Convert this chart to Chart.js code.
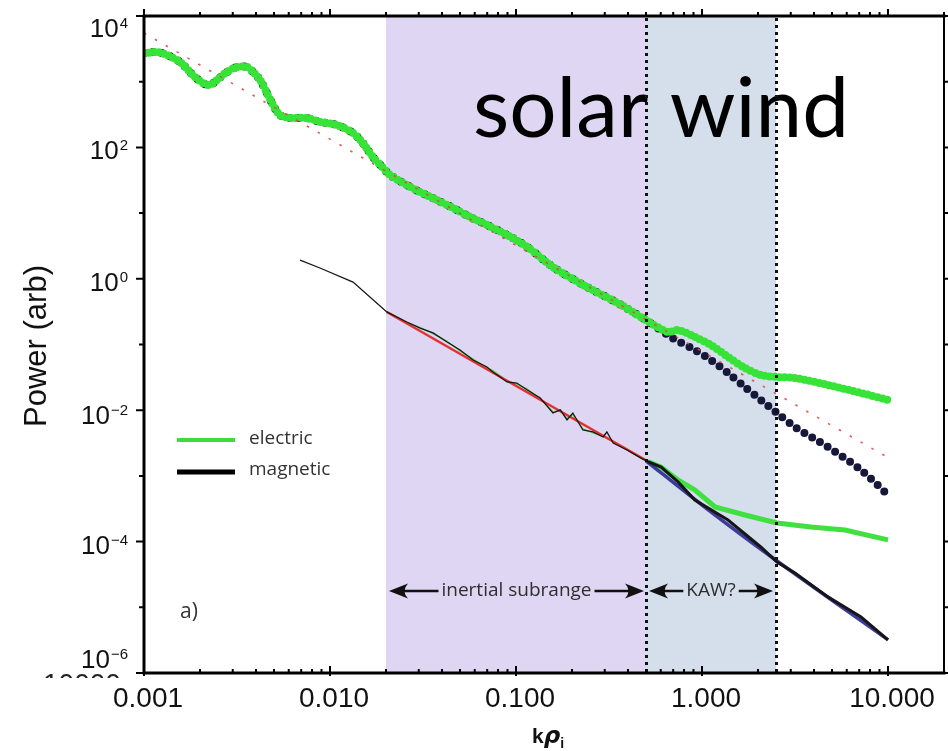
<!DOCTYPE html>
<html>
<head>
<meta charset="utf-8">
<style>
  html, body { margin: 0; padding: 0; background: #ffffff; }
  #wrap { width: 948px; height: 751px; }
  canvas { display: block; }
</style>
<script src="https://cdn.jsdelivr.net/npm/chart.js@4.4.1/dist/chart.umd.min.js"></script>
</head>
<body>
<div id="wrap"><canvas id="spectra" width="948" height="751"></canvas></div>
<script>
// ---- spectra: wavenumber k*rho_i versus power (arbitrary units) ----

// upper pair: electric and magnetic field spectra
const kElectricUpper = [0.001, 0.00117, 0.00133, 0.00156, 0.00183, 0.00207, 0.00226, 0.00247, 0.00279, 0.00316,
  0.00358, 0.00386, 0.00421, 0.00458, 0.00494, 0.00538, 0.0061, 0.00752, 0.00883, 0.0109,
  0.0133, 0.015, 0.017, 0.0191, 0.021, 0.0259, 0.0305, 0.0376, 0.0458, 0.0566,
  0.0698, 0.0895, 0.115, 0.158, 0.241, 0.362, 0.5, 0.656, 0.743, 0.916,
  1.117, 1.38, 1.70, 2.07, 2.53, 3.16, 4.75, 7.16, 10];
const electricUpper = [2700, 2830, 2550, 2000, 1265, 955, 891, 1060, 1406, 1675,
  1675, 1406, 1060, 673, 442, 311, 280, 280, 244, 219,
  166, 117, 71.4, 50.4, 38.0, 26.8, 20.9, 15.8, 12.0, 8.73,
  6.59, 4.65, 3.05, 1.51, 0.75, 0.41, 0.235, 0.155, 0.166, 0.130,
  0.098, 0.0646, 0.0439, 0.0344, 0.032, 0.0309, 0.0242, 0.0183, 0.0143];

const kMagneticUpper = [0.001, 0.00117, 0.00133, 0.00156, 0.00183, 0.00207, 0.00226, 0.00247, 0.00279, 0.00316,
  0.00358, 0.00386, 0.00421, 0.00458, 0.00494, 0.00538, 0.0061, 0.00752, 0.00883, 0.0109,
  0.0133, 0.015, 0.017, 0.0191, 0.021, 0.0259, 0.0305, 0.0376, 0.0458, 0.0566,
  0.0698, 0.0895, 0.115, 0.158, 0.241, 0.362, 0.5, 0.68, 0.916, 1.117,
  1.38, 1.70, 2.07, 2.53, 3.16, 4.75, 7.16, 10];
const magneticUpper = [2700, 2830, 2550, 2000, 1265, 955, 891, 1060, 1406, 1675,
  1675, 1406, 1060, 673, 442, 311, 280, 280, 244, 219,
  166, 117, 71.4, 50.4, 38.0, 26.8, 20.9, 15.8, 12.0, 8.73,
  6.59, 4.65, 3.05, 1.51, 0.75, 0.41, 0.235, 0.130, 0.0824, 0.058,
  0.0368, 0.0225, 0.0143, 0.00906, 0.00555, 0.00275, 0.00123, 0.000512];

// lower pair
const kMagneticLower = [0.0069, 0.00883, 0.0133, 0.0202, 0.0259, 0.0305, 0.0358, 0.0426, 0.05, 0.0588,
  0.0698, 0.0752, 0.0895, 0.101, 0.115, 0.135, 0.158, 0.173, 0.188, 0.202,
  0.229, 0.259, 0.294, 0.308, 0.333, 0.395, 0.465, 0.512, 0.603, 0.743,
  0.916, 1.38, 2.07, 2.53, 3.16, 4.75, 7.16, 10];
const magneticLower = [1.93, 1.46, 0.893, 0.313, 0.220, 0.178, 0.150, 0.109, 0.0824, 0.0581,
  0.0455, 0.0381, 0.0269, 0.0259, 0.0203, 0.0153, 0.00906, 0.0101, 0.0071, 0.00906,
  0.0050, 0.00466, 0.00391, 0.00466, 0.00317, 0.00248, 0.0019, 0.00165, 0.00136, 0.00081,
  0.00043, 0.000213, 0.0000828, 0.0000489, 0.0000333, 0.0000144, 0.0000071, 0.0000032];

const kElectricLower = [0.0202, 0.0259, 0.0305, 0.0358, 0.0426, 0.05, 0.0588, 0.0698, 0.0752, 0.0895,
  0.101, 0.115, 0.135, 0.158, 0.173, 0.188, 0.202, 0.229, 0.259, 0.294,
  0.333, 0.395, 0.465, 0.512, 0.603, 0.743, 0.916, 1.175, 1.70, 2.53,
  3.85, 5.87, 10];
const electricLower = [0.313, 0.215, 0.182, 0.146, 0.112, 0.080, 0.060, 0.044, 0.040, 0.028,
  0.025, 0.021, 0.0150, 0.0095, 0.0098, 0.0075, 0.0086, 0.0052, 0.0045, 0.0040,
  0.0033, 0.0025, 0.0019, 0.00165, 0.00136, 0.000867, 0.00061, 0.000336, 0.000254, 0.000192,
  0.000167, 0.00015, 0.000106];

// power-law fits
const kFitUpper = [0.001, 10];
const fitUpper = [5500, 0.0019];
const kFitLower = [0.0202, 0.5];
const fitLower = [0.313, 0.00173];
const kFitDissipation = [0.5, 1, 2.5, 10];
const fitDissipation = [0.0017, 0.00036, 0.000052, 0.0000032];

// shaded ranges and boundaries
const inertialRange = [0.02, 0.5];
const kawRange = [0.5, 2.5];

// axis ticks
const xTickValues = [0.001, 0.01, 0.1, 1, 10];
const xTickLabels = ['0.001', '0.010', '0.100', '1.000', '10.000'];
const yTickValues = [1e4, 1e2, 1, 1e-2, 1e-4, 1e-6];
const yTickExponents = ['4', '2', '0', '\u22122', '\u22124', '\u22126'];

const legendLabels = ['electric', 'magnetic'];

// ---- helpers ----
const pts = (xs, ys) => xs.map((x, i) => ({ x, y: ys[i] }));

function fitSize(ctx, text, family, weight, target) {
  ctx.font = `${weight} 100px ${family}`;
  return 100 * target / ctx.measureText(text).width;
}

function arrowHead(ctx, tipX, y, dir) {
  // dir = -1 points left, +1 points right
  const L = 19, H = 7.5, notch = 5;
  ctx.beginPath();
  ctx.moveTo(tipX, y);
  ctx.lineTo(tipX - dir * L, y - H);
  ctx.quadraticCurveTo(tipX - dir * (L - notch - 2), y, tipX - dir * L, y + H);
  ctx.closePath();
  ctx.fill();
}

function rangeArrow(ctx, x0, x1, y, label, size) {
  ctx.font = `400 ${size}px "Open Sans"`;
  const w = ctx.measureText(label).width;
  const cx = (x0 + x1) / 2;
  ctx.fillStyle = '#111';
  ctx.strokeStyle = '#111';
  ctx.lineWidth = 2.5;
  ctx.beginPath();
  ctx.moveTo(x0 + 8, y); ctx.lineTo(cx - w / 2 - 3, y);
  ctx.moveTo(cx + w / 2 + 3, y); ctx.lineTo(x1 - 8, y);
  ctx.stroke();
  arrowHead(ctx, x0, y, -1);
  arrowHead(ctx, x1, y, 1);
  ctx.fillStyle = '#2e2e2e';
  ctx.textAlign = 'center';
  ctx.textBaseline = 'middle';
  ctx.fillText(label, cx, y);
}

// ---- background shading ----
const shading = {
  id: 'shading',
  beforeDatasetsDraw(chart) {
    const { ctx, chartArea: a, scales: { x } } = chart;
    ctx.save();
    ctx.fillStyle = '#ded6f2';
    const p0 = x.getPixelForValue(inertialRange[0]), p1 = x.getPixelForValue(inertialRange[1]);
    ctx.fillRect(p0, a.top, p1 - p0, a.bottom - a.top);
    ctx.fillStyle = '#d5dfec';
    const q0 = x.getPixelForValue(kawRange[0]), q1 = x.getPixelForValue(kawRange[1]);
    ctx.fillRect(q0, a.top, q1 - q0, a.bottom - a.top);
    ctx.restore();
  }
};

// ---- frame, ticks, labels and annotations ----
const overlay = {
  id: 'overlay',
  afterDatasetsDraw(chart) {
    const { ctx, chartArea: a, scales: { x, y } } = chart;
    ctx.save();

    // title
    const titleSize = fitSize(ctx, 'solar wind', 'Lato', 400, 376);
    ctx.font = `400 ${titleSize}px Lato`;
    ctx.fillStyle = '#000';
    ctx.textAlign = 'left';
    ctx.textBaseline = 'alphabetic';
    ctx.fillText('solar wind', 473, 137);

    // dotted boundaries
    ctx.strokeStyle = '#111';
    ctx.lineWidth = 3;
    ctx.setLineDash([3, 4]);
    [kawRange[0], kawRange[1]].forEach(v => {
      const px = Math.round(x.getPixelForValue(v)) + 0.5;
      ctx.beginPath(); ctx.moveTo(px, a.top + 2); ctx.lineTo(px, a.bottom); ctx.stroke();
    });
    ctx.setLineDash([]);

    // range annotations
    const ay = 591;
    rangeArrow(ctx, x.getPixelForValue(inertialRange[0]) + 3, x.getPixelForValue(inertialRange[1]) - 2, ay, 'inertial subrange', 19);
    rangeArrow(ctx, x.getPixelForValue(kawRange[0]) + 3, x.getPixelForValue(kawRange[1]) - 3, ay, 'KAW?', 19);

    // legend
    ctx.lineCap = 'butt';
    ctx.strokeStyle = '#3ddc3d'; ctx.lineWidth = 4;
    ctx.beginPath(); ctx.moveTo(177, 440); ctx.lineTo(235, 440); ctx.stroke();
    ctx.strokeStyle = '#000'; ctx.lineWidth = 5;
    ctx.beginPath(); ctx.moveTo(177, 472); ctx.lineTo(235, 472); ctx.stroke();
    ctx.fillStyle = '#333';
    ctx.font = '400 19px "Open Sans"';
    ctx.textAlign = 'left'; ctx.textBaseline = 'middle';
    ctx.fillText(legendLabels[0], 249, 439);
    ctx.fillText(legendLabels[1], 249, 470);

    // panel tag
    ctx.font = '400 21px "Open Sans"';
    ctx.fillText('a)', 180, 612);

    // frame
    ctx.strokeStyle = '#000';
    ctx.lineCap = 'square';
    ctx.lineWidth = 3;
    ctx.beginPath();
    ctx.moveTo(a.left, a.bottom); ctx.lineTo(a.left, a.top); ctx.lineTo(a.right, a.top);
    ctx.moveTo(a.left, a.bottom); ctx.lineTo(a.right, a.bottom);
    ctx.stroke();
    ctx.lineWidth = 2;
    ctx.beginPath(); ctx.moveTo(a.right, a.top); ctx.lineTo(a.right, a.bottom); ctx.stroke();

    // x ticks (log minor ticks)
    ctx.lineCap = 'butt';
    ctx.lineWidth = 2;
    ctx.beginPath();
    for (let d = -3; d <= 1; d++) {
      for (let m = 1; m <= 9; m++) {
        const v = m * Math.pow(10, d);
        if (v > 20.0001) break;
        const px = x.getPixelForValue(v);
        const len = m === 1 ? 7 : 4;
        ctx.moveTo(px, a.top); ctx.lineTo(px, a.top - len);
        ctx.moveTo(px, a.bottom + (m === 1 ? 3 : 0)); ctx.lineTo(px, a.bottom - len);
      }
    }
    // y ticks
    for (let e = -6; e <= 4; e++) {
      const py = y.getPixelForValue(Math.pow(10, e));
      const len = (e % 2 === 0) ? 8 : 5;
      ctx.moveTo(a.left, py); ctx.lineTo(a.left - len, py);
      ctx.moveTo(a.right, py); ctx.lineTo(a.right + 5, py);
    }
    ctx.stroke();

    // x tick labels
    ctx.fillStyle = '#111';
    ctx.font = '400 28px "Liberation Sans"';
    ctx.textAlign = 'center'; ctx.textBaseline = 'alphabetic';
    xTickValues.forEach((v, i) => {
      ctx.fillText(xTickLabels[i], x.getPixelForValue(v) + 4, 707);
    });

    // y tick labels, 10 with a raised exponent
    const labelShift = [21, 12, 12, 14, 12, -5];
    const rightEdge = 128;
    yTickValues.forEach((v, i) => {
      const py = y.getPixelForValue(v) + labelShift[i];
      ctx.font = '400 15px "Liberation Sans"';
      const ew = ctx.measureText(yTickExponents[i]).width;
      ctx.textAlign = 'left';
      ctx.fillText(yTickExponents[i], rightEdge - ew, py - 9);
      ctx.font = '400 26px "Liberation Sans"';
      ctx.textAlign = 'right';
      ctx.fillText('10', rightEdge - ew - 1, py);
    });

    // clipped label fragment below the lowest tick
    ctx.save();
    ctx.beginPath(); ctx.rect(0, 670, 140, 8); ctx.clip();
    ctx.fillStyle = '#222';
    ctx.font = '400 28px "Liberation Sans"';
    ctx.textAlign = 'left';
    ctx.fillText('10000', 43, 693);
    ctx.translate(24, 684);
    ctx.rotate(-Math.PI / 2);
    ctx.textAlign = 'center'; ctx.textBaseline = 'middle';
    ctx.fillText('(', 0, 0);
    ctx.restore();

    // axis titles
    ctx.save();
    const ylSize = fitSize(ctx, 'Power (arb)', '"Liberation Sans"', 400, 162);
    ctx.translate(37, 346);
    ctx.rotate(-Math.PI / 2);
    ctx.font = `400 ${ylSize}px "Liberation Sans"`;
    ctx.fillStyle = '#111';
    ctx.textAlign = 'center'; ctx.textBaseline = 'middle';
    ctx.fillText('Power (arb)', 0, 0);
    ctx.restore();

    ctx.fillStyle = '#111';
    ctx.textAlign = 'left'; ctx.textBaseline = 'alphabetic';
    ctx.font = '700 21px "Liberation Sans"';
    ctx.fillText('k', 532, 743);
    const kw = ctx.measureText('k').width;
    ctx.font = 'italic 700 23px "DejaVu Sans"';
    ctx.fillText('\u03c1', 532 + kw, 743);
    const rw = ctx.measureText('\u03c1').width;
    ctx.font = '700 14px "Liberation Sans"';
    ctx.fillText('i', 532 + kw + rw, 748);

    ctx.restore();
  }
};

const dissipative = (c) => c.p0.parsed.x >= 0.5;

const chart = new Chart(document.getElementById('spectra'), {
  type: 'scatter',
  data: {
    datasets: [
      { // upper power-law fit
        data: pts(kFitUpper, fitUpper), showLine: true,
        borderColor: 'rgba(228, 70, 70, 0.9)', borderWidth: 1.6, borderDash: [2.5, 10],
        pointRadius: 0
      },
      { // lower magnetic spectrum
        data: pts(kMagneticLower, magneticLower), showLine: true,
        borderColor: '#161616', borderWidth: 1.3, pointRadius: 0,
        segment: { borderWidth: c => dissipative(c) ? 3 : undefined }
      },
      { // lower inertial-range fit
        data: pts(kFitLower, fitLower), showLine: true,
        borderColor: '#e43030', borderWidth: 2.4, pointRadius: 0
      },
      { // lower dissipation-range fit
        data: pts(kFitDissipation, fitDissipation), showLine: true,
        borderColor: '#3b3b9c', borderWidth: 3.5, pointRadius: 0, tension: 0.3
      },
      { // lower electric spectrum
        data: pts(kElectricLower, electricLower), showLine: true,
        borderColor: '#3fe03f', borderWidth: 1.3, pointRadius: 0,
        segment: { borderWidth: c => dissipative(c) ? 5 : undefined }
      },
      { // upper electric spectrum
        data: pts(kElectricUpper, electricUpper), showLine: true,
        borderColor: '#36e336', borderWidth: 8, borderDash: [0, 5],
        borderCapStyle: 'round', borderJoinStyle: 'round', pointRadius: 0, tension: 0.3
      },
      { // upper magnetic spectrum
        data: pts(kMagneticUpper, magneticUpper), showLine: true,
        borderColor: '#17173a', borderWidth: 8, borderDash: [0, 9],
        borderCapStyle: 'round', borderJoinStyle: 'round', pointRadius: 0, tension: 0.3
      }
    ]
  },
  options: {
    responsive: false,
    animation: false,
    devicePixelRatio: 1,
    layout: { padding: { left: 144, top: 16, right: 4, bottom: 78 } },
    plugins: { legend: { display: false }, tooltip: { enabled: false } },
    scales: {
      x: { type: 'logarithmic', min: 0.001, max: 20, display: false },
      y: { type: 'logarithmic', min: 1e-6, max: 1e4, display: false }
    }
  },
  plugins: [shading, overlay]
});
</script>
</body>
</html>
